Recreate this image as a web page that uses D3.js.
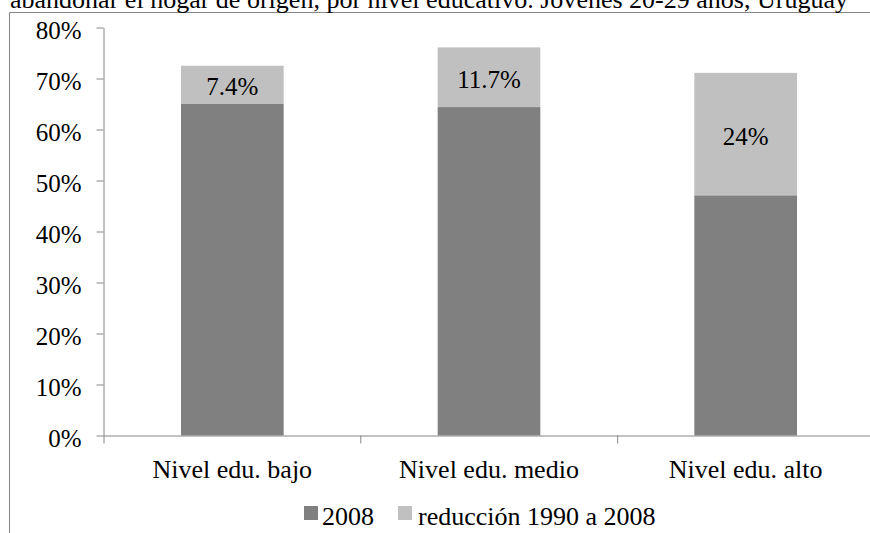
<!DOCTYPE html>
<html>
<head>
<meta charset="utf-8">
<script src="https://cdn.jsdelivr.net/npm/d3@7"></script>
<style>
  html, body { margin: 0; padding: 0; background: #fff; }
  svg { display: block; }
  text { font-family: "Liberation Serif", "Times New Roman", serif; fill: #000; }
</style>
</head>
<body>
<svg id="chart" width="870" height="533"></svg>
<script>
const title = "abandonar el hogar de origen, por nivel educativo. Jóvenes 20-29 años, Uruguay";
const categories = ["Nivel edu. bajo", "Nivel edu. medio", "Nivel edu. alto"];
const values2008 = [65.1, 64.4, 47.1];
const valuesReduccion = [7.4, 11.7, 24];
const reduccionLabels = ["7.4%", "11.7%", "24%"];
const seriesNames = ["2008", "reducción 1990 a 2008"];
const yTicks = [0, 10, 20, 30, 40, 50, 60, 70, 80];

const colors = ["#808080", "#c0c0c0"];
const axisColor = "#868686";
const fontSmall = 25;
const fontLarge = 26;

const svg = d3.select("#chart");

// frame (chart area border, clipped by the viewport)
svg.append("path")
  .attr("d", "M9.5,533 V12.5 H870")
  .attr("fill", "none")
  .attr("stroke", axisColor)
  .attr("stroke-width", 1);

// title (partially cut at top, as in the original)
svg.append("text")
  .attr("x", 10)
  .attr("y", 8)
  .attr("font-size", fontLarge)
  .attr("textLength", 838)
  .attr("lengthAdjust", "spacing")
  .text(title);

const plotLeft = 104, plotRight = 874, plotBottom = 435.5, plotTop = 27.5;

const x = d3.scaleBand().domain(categories).range([plotLeft, plotRight])
  .paddingInner(0.6).paddingOuter(0.3);
const y = d3.scaleLinear().domain([0, 80]).range([plotBottom, plotTop]);

// bars
const rows = categories.map((c, i) => ({
  cat: c, v2008: values2008[i], red: valuesReduccion[i], label: reduccionLabels[i]
}));

const g = svg.append("g");
g.selectAll("rect.b2008").data(rows).join("rect")
  .attr("class", "b2008")
  .attr("x", d => x(d.cat))
  .attr("width", x.bandwidth())
  .attr("y", d => y(d.v2008))
  .attr("height", d => y(0) - y(d.v2008))
  .attr("fill", colors[0]);

g.selectAll("rect.bred").data(rows).join("rect")
  .attr("class", "bred")
  .attr("x", d => x(d.cat))
  .attr("width", x.bandwidth())
  .attr("y", d => y(d.v2008 + d.red))
  .attr("height", d => y(d.v2008) - y(d.v2008 + d.red))
  .attr("fill", colors[1]);

g.selectAll("text.lbl").data(rows).join("text")
  .attr("class", "lbl")
  .attr("x", d => x(d.cat) + x.bandwidth() / 2)
  .attr("y", d => (y(d.v2008) + y(d.v2008 + d.red)) / 2 + 10.5)
  .attr("text-anchor", "middle")
  .attr("font-size", fontSmall)
  .text(d => d.label);

// y axis
const yAxis = svg.append("g")
  .attr("transform", `translate(${plotLeft - 0.5},0)`)
  .call(d3.axisLeft(y).tickValues(yTicks).tickFormat(d => d + "%")
    .tickSize(7).tickSizeOuter(0).tickPadding(15));
yAxis.attr("font-family", null);
yAxis.select(".domain").attr("stroke", axisColor);
yAxis.selectAll(".tick line").attr("stroke", axisColor);
yAxis.selectAll(".tick text")
  .attr("font-size", fontSmall)
  .attr("fill", "#000")
  .attr("dy", "0.45em");

// x axis: ticks between categories
const xb = d3.scaleLinear().domain([0, categories.length]).range([plotLeft - 0.5, plotRight]);
const xAxis = svg.append("g")
  .attr("transform", `translate(0,${plotBottom})`)
  .call(d3.axisBottom(xb).tickValues(d3.range(categories.length + 1))
    .tickFormat("").tickSize(8).tickSizeOuter(0));
xAxis.select(".domain").attr("stroke", axisColor);
xAxis.selectAll(".tick line").attr("stroke", axisColor);

svg.append("g").selectAll("text").data(categories).join("text")
  .attr("x", d => x(d) + x.bandwidth() / 2)
  .attr("y", plotBottom + 42)
  .attr("text-anchor", "middle")
  .attr("font-size", fontLarge)
  .text(d => d);

// legend
const legendX = [304, 398];
const legend = svg.append("g").selectAll("g").data(seriesNames).join("g")
  .attr("transform", (d, i) => `translate(${legendX[i]},0)`);
legend.append("rect")
  .attr("x", 0).attr("y", 506).attr("width", 14).attr("height", 14)
  .attr("fill", (d, i) => colors[i]);
legend.append("text")
  .attr("x", (d, i) => i === 0 ? 18 : 20).attr("y", 525)
  .attr("font-size", fontLarge)
  .text(d => d);
</script>
</body>
</html>
